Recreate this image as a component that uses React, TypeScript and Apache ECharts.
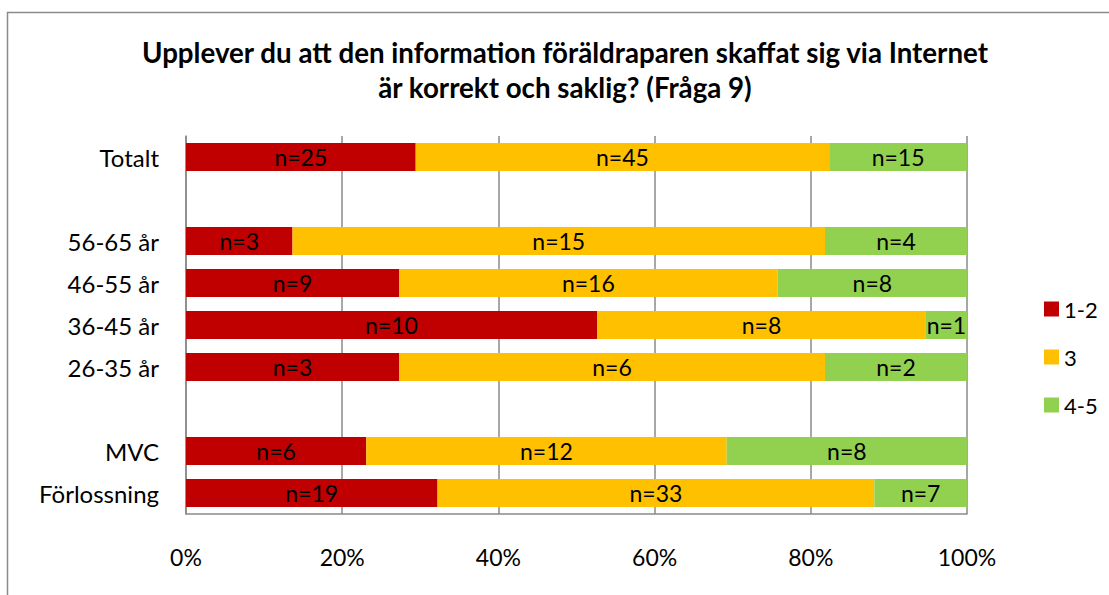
import React, { useEffect, useRef } from "react";
import * as echarts from "echarts";

const categories = ["Totalt", "", "56-65 år", "46-55 år", "36-45 år", "26-35 år", " ", "MVC", "Förlossning"];
const seriesNames = ["1-2", "3", "4-5"];
const countsLow = [25, null, 3, 9, 10, 3, null, 6, 19];
const countsMid = [45, null, 15, 16, 8, 6, null, 12, 33];
const countsHigh = [15, null, 4, 8, 1, 2, null, 8, 7];
const xTicks = [0, 20, 40, 60, 80, 100];
const colors = ["#C00000", "#FFC000", "#92D050"];
const titleText = "Upplever du att den information föräldraparen skaffat sig via Internet\när korrekt och saklig? (Fråga 9)";

const FONT = "Lato, 'Noto Sans', sans-serif";

export default function App() {
  const ref = useRef<HTMLDivElement>(null);
  useEffect(() => {
    if (!ref.current) return;
    const chart = echarts.init(ref.current, null, { renderer: "svg" });
    const all = [countsLow, countsMid, countsHigh];
    const totals = categories.map((_, i) =>
      all.reduce((s, arr) => s + (arr[i] == null ? 0 : (arr[i] as number)), 0)
    );
    const series = all.map((arr, si) => ({
      name: seriesNames[si],
      type: "bar",
      stack: "total",
      barWidth: 28,
      itemStyle: { color: colors[si] },
      label: {
        show: true,
        position: "inside",
        color: "#000",
        fontFamily: FONT,
        fontSize: 23,
        formatter: (p: any) => (arr[p.dataIndex] == null ? "" : "n=" + arr[p.dataIndex]),
      },
      data: arr.map((v, i) => (v == null ? "-" : ((v as number) / totals[i]) * 100)),
    }));
    chart.setOption({
      animation: false,
      textStyle: { fontFamily: FONT },
      graphic: [
        {
          type: "rect",
          shape: { x: 7.5, y: 12.5, width: 1300, height: 800 },
          style: { fill: "none", stroke: "#8a8a8a", lineWidth: 1.5 },
        },
        {
          type: "text",
          x: 565,
          y: 35,
          style: {
            text: titleText,
            textAlign: "center",
            fontFamily: FONT,
            fontWeight: "bold",
            fontSize: 27.7,
            lineHeight: 35,
            fill: "#000",
          },
        },
      ],
      legend: {
        orient: "vertical",
        left: 1039,
        top: 293,
        itemWidth: 15,
        itemHeight: 15,
        itemGap: 26,
        itemTextGap: 7,
        icon: "rect",
        textStyle: { fontFamily: FONT, fontSize: 22, lineHeight: 22, color: "#000" },
        data: seriesNames,
      },
      grid: { left: 186, right: 142, top: 136, bottom: 81, containLabel: false },
      xAxis: {
        type: "value",
        min: xTicks[0],
        max: xTicks[xTicks.length - 1],
        interval: 20,
        axisLine: { show: true, lineStyle: { color: "#8a8a8a", width: 1.5 } },
        axisTick: { show: false },
        splitLine: { show: true, lineStyle: { color: "#8a8a8a", width: 1.5 } },
        axisLabel: {
          formatter: "{value}%",
          color: "#000",
          fontFamily: FONT,
          fontSize: 23,
          margin: 31,
        },
      },
      yAxis: {
        type: "category",
        inverse: true,
        data: categories,
        axisLine: { show: true, lineStyle: { color: "#8a8a8a", width: 1.5 } },
        axisTick: { show: false },
        splitLine: { show: false },
        axisLabel: { color: "#000", fontFamily: FONT, fontSize: 24, margin: 27 },
      },
      series,
    });
    return () => chart.dispose();
  }, []);
  return (
    <div
      ref={ref}
      style={{ position: "absolute", left: 0, top: 0, width: 1109, height: 595, background: "#fff" }}
    />
  );
}
